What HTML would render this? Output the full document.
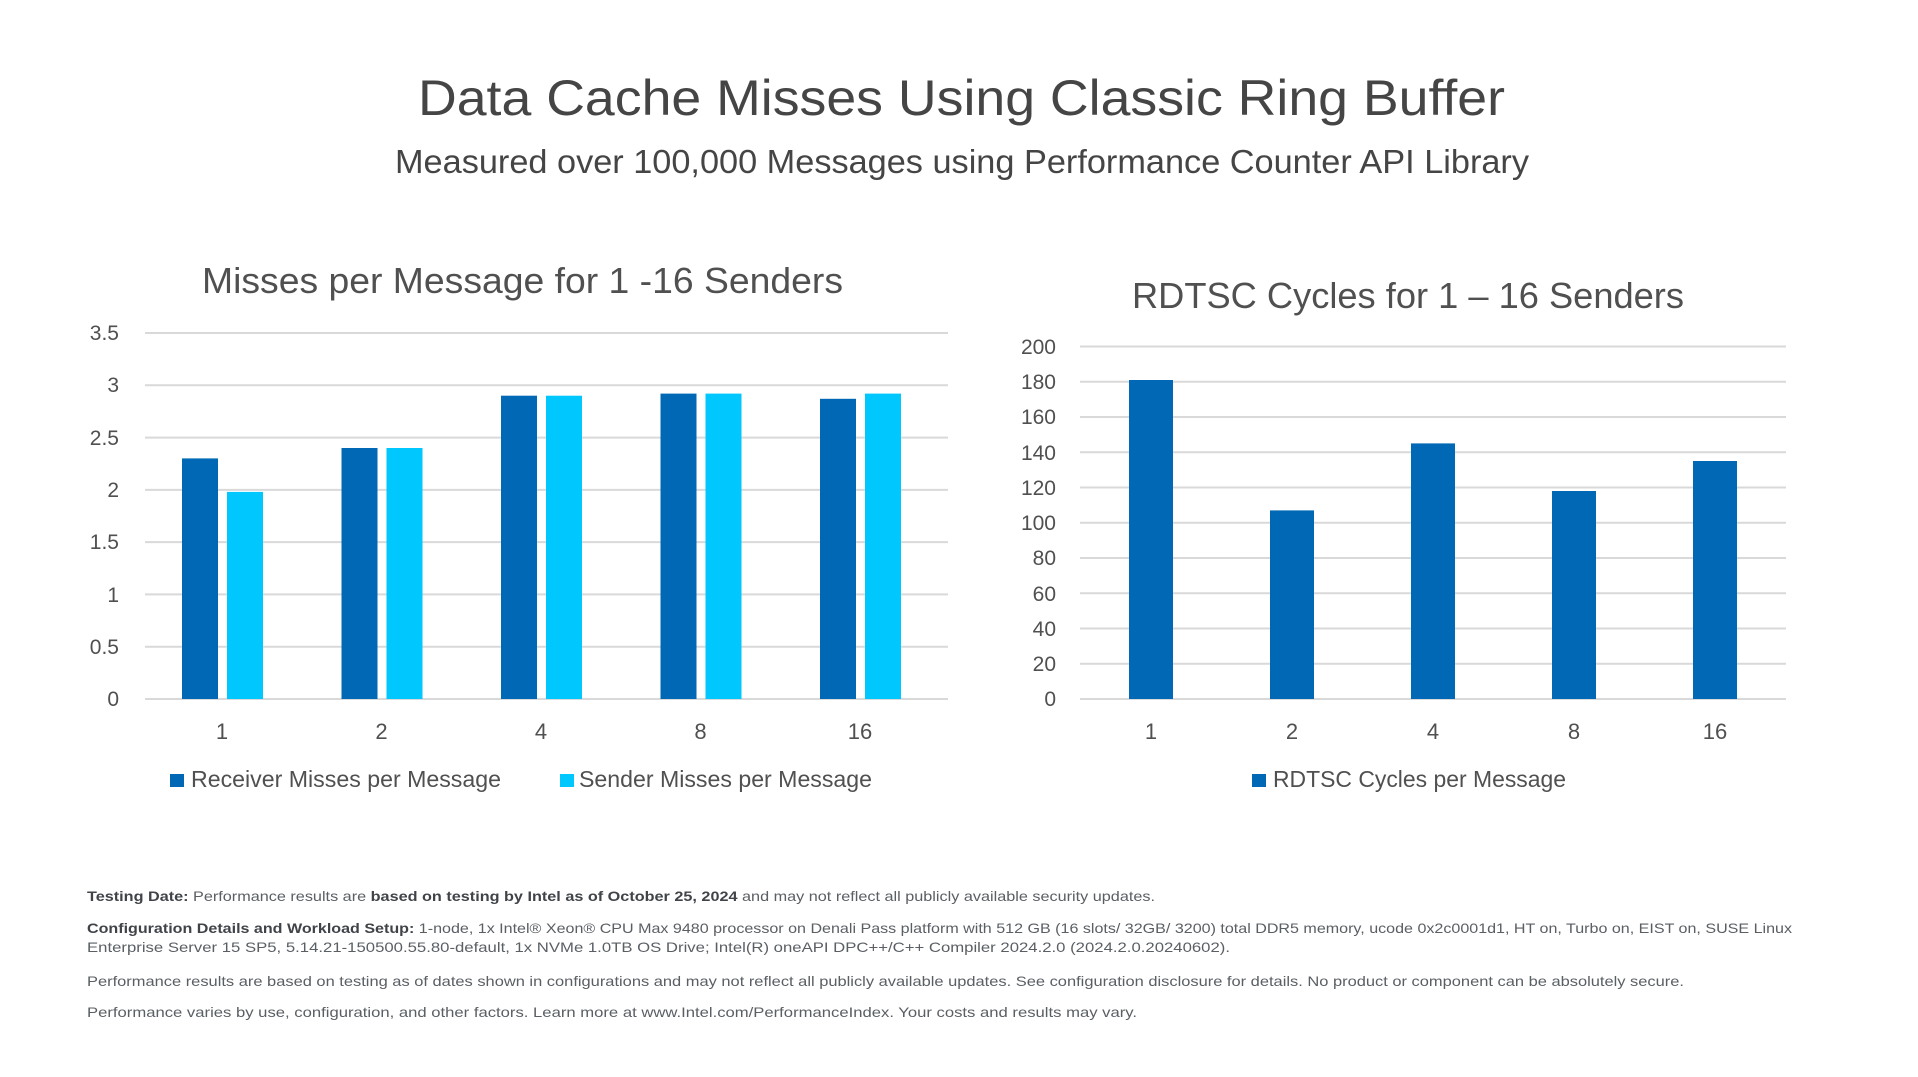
<!DOCTYPE html>
<html><head><meta charset="utf-8"><style>
html,body{margin:0;padding:0;background:#fff;}
svg{display:block;}
text{font-family:"Liberation Sans",sans-serif;}
</style></head><body>
<svg width="1918" height="1077" viewBox="0 0 1918 1077" xmlns="http://www.w3.org/2000/svg">
<rect width="1918" height="1077" fill="#fff"/>
<text x="418" y="115" font-size="50" fill="#454545" textLength="1087" lengthAdjust="spacingAndGlyphs">Data Cache Misses Using Classic Ring Buffer</text>
<text x="395" y="173" font-size="33" fill="#454545" textLength="1134" lengthAdjust="spacingAndGlyphs">Measured over 100,000 Messages using Performance Counter API Library</text>

<!-- Left chart -->
<text x="202" y="293" font-size="36" fill="#505050" textLength="641" lengthAdjust="spacingAndGlyphs">Misses per Message for 1 -16 Senders</text>
<g stroke="#d9d9d9" stroke-width="2">
<line x1="145" x2="948" y1="333" y2="333"/>
<line x1="145" x2="948" y1="385.3" y2="385.3"/>
<line x1="145" x2="948" y1="437.6" y2="437.6"/>
<line x1="145" x2="948" y1="489.9" y2="489.9"/>
<line x1="145" x2="948" y1="542.1" y2="542.1"/>
<line x1="145" x2="948" y1="594.4" y2="594.4"/>
<line x1="145" x2="948" y1="646.7" y2="646.7"/>
<line x1="145" x2="948" y1="699" y2="699"/>
</g>
<g font-size="21" fill="#505050" text-anchor="end">
<text x="119" y="340">3.5</text><text x="119" y="392">3</text><text x="119" y="445">2.5</text>
<text x="119" y="497">2</text><text x="119" y="549">1.5</text><text x="119" y="602">1</text>
<text x="119" y="654">0.5</text><text x="119" y="706">0</text>
</g>
<g fill="#0068B5">
<rect x="182" y="458.4" width="36" height="240.6"/>
<rect x="341.5" y="448" width="36" height="251"/>
<rect x="501" y="395.7" width="36" height="303.3"/>
<rect x="660.5" y="393.6" width="36" height="305.4"/>
<rect x="820" y="398.8" width="36" height="300.2"/>
</g>
<g fill="#00C7FD">
<rect x="227" y="491.9" width="36" height="207.1"/>
<rect x="386.5" y="448" width="36" height="251"/>
<rect x="546" y="395.7" width="36" height="303.3"/>
<rect x="705.5" y="393.6" width="36" height="305.4"/>
<rect x="865" y="393.6" width="36" height="305.4"/>
</g>
<g font-size="22" fill="#505050" text-anchor="middle">
<text x="222" y="739">1</text><text x="381.5" y="739">2</text><text x="541" y="739">4</text>
<text x="700.5" y="739">8</text><text x="860" y="739">16</text>
</g>
<rect x="170" y="774" width="14" height="13" fill="#0068B5"/>
<text x="191" y="787" font-size="23" fill="#505050" textLength="310" lengthAdjust="spacingAndGlyphs">Receiver Misses per Message</text>
<rect x="560" y="774" width="14" height="13" fill="#00C7FD"/>
<text x="579" y="787" font-size="23" fill="#505050" textLength="293" lengthAdjust="spacingAndGlyphs">Sender Misses per Message</text>

<!-- Right chart -->
<text x="1132" y="308" font-size="36" fill="#505050" textLength="552" lengthAdjust="spacingAndGlyphs">RDTSC Cycles for 1 – 16 Senders</text>
<g stroke="#d9d9d9" stroke-width="2">
<line x1="1080" x2="1786" y1="346.5" y2="346.5"/>
<line x1="1080" x2="1786" y1="381.8" y2="381.8"/>
<line x1="1080" x2="1786" y1="417" y2="417"/>
<line x1="1080" x2="1786" y1="452.3" y2="452.3"/>
<line x1="1080" x2="1786" y1="487.5" y2="487.5"/>
<line x1="1080" x2="1786" y1="522.8" y2="522.8"/>
<line x1="1080" x2="1786" y1="558" y2="558"/>
<line x1="1080" x2="1786" y1="593.3" y2="593.3"/>
<line x1="1080" x2="1786" y1="628.5" y2="628.5"/>
<line x1="1080" x2="1786" y1="663.8" y2="663.8"/>
<line x1="1080" x2="1786" y1="699" y2="699"/>
</g>
<g font-size="21" fill="#505050" text-anchor="end">
<text x="1056" y="354">200</text><text x="1056" y="389">180</text><text x="1056" y="424">160</text>
<text x="1056" y="460">140</text><text x="1056" y="495">120</text><text x="1056" y="530">100</text>
<text x="1056" y="565">80</text><text x="1056" y="601">60</text><text x="1056" y="636">40</text>
<text x="1056" y="671">20</text><text x="1056" y="706">0</text>
</g>
<g fill="#0068B5">
<rect x="1129" y="380" width="44" height="319"/>
<rect x="1270" y="510.4" width="44" height="188.6"/>
<rect x="1411" y="443.4" width="44" height="255.6"/>
<rect x="1552" y="491" width="44" height="208"/>
<rect x="1693" y="461" width="44" height="238"/>
</g>
<g font-size="22" fill="#505050" text-anchor="middle">
<text x="1151" y="739">1</text><text x="1292" y="739">2</text><text x="1433" y="739">4</text>
<text x="1574" y="739">8</text><text x="1715" y="739">16</text>
</g>
<rect x="1252" y="774" width="14" height="13" fill="#0068B5"/>
<text x="1273" y="787" font-size="23" fill="#505050" textLength="293" lengthAdjust="spacingAndGlyphs">RDTSC Cycles per Message</text>

<!-- Footer -->
<g font-size="14" fill="#5a5f64">
<text x="87" y="901" textLength="1068" lengthAdjust="spacingAndGlyphs"><tspan font-weight="bold" fill="#404448">Testing Date:</tspan> Performance results are <tspan font-weight="bold" fill="#404448">based on testing by Intel as of October 25, 2024</tspan> and may not reflect all publicly available security updates.</text>
<text x="87" y="933" textLength="1705" lengthAdjust="spacingAndGlyphs"><tspan font-weight="bold" fill="#404448">Configuration Details and Workload Setup:</tspan> 1-node, 1x Intel® Xeon® CPU Max 9480 processor on Denali Pass platform with 512 GB (16 slots/ 32GB/ 3200) total DDR5 memory, ucode 0x2c0001d1, HT on, Turbo on, EIST on, SUSE Linux</text>
<text x="87" y="952" textLength="1143" lengthAdjust="spacingAndGlyphs">Enterprise Server 15 SP5, 5.14.21-150500.55.80-default, 1x NVMe 1.0TB OS Drive; Intel(R) oneAPI DPC++/C++ Compiler 2024.2.0 (2024.2.0.20240602).</text>
<text x="87" y="986" textLength="1597" lengthAdjust="spacingAndGlyphs">Performance results are based on testing as of dates shown in configurations and may not reflect all publicly available updates. See configuration disclosure for details.  No product or component can be absolutely secure.</text>
<text x="87" y="1017" textLength="1050" lengthAdjust="spacingAndGlyphs">Performance varies by use, configuration, and other factors. Learn more at www.Intel.com/PerformanceIndex. Your costs and results may vary.</text>
</g>
</svg>
</body></html>
